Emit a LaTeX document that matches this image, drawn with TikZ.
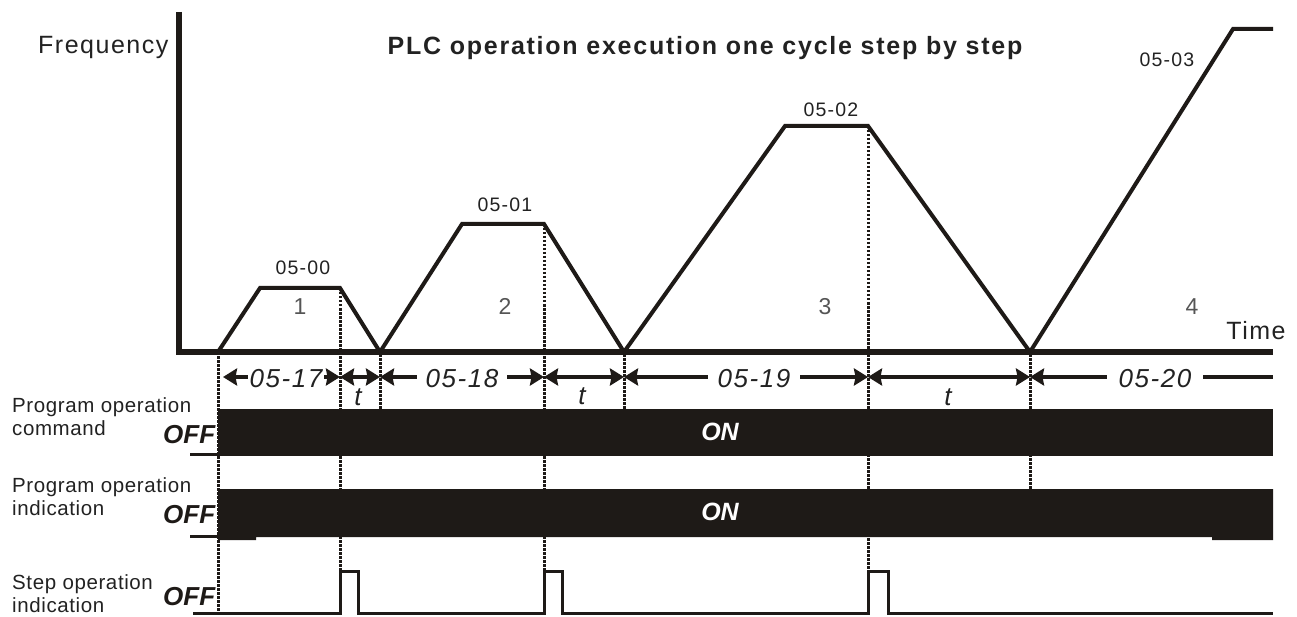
\documentclass[tikz,border=0pt]{standalone}
\usepackage{fontspec}
\setmainfont{Liberation Sans}
\newfontfamily\lsA[LetterSpace=6]{Liberation Sans}
\newfontfamily\lsT[LetterSpace=7]{Liberation Sans}
\newfontfamily\lsB[LetterSpace=3]{Liberation Sans}
\usetikzlibrary{arrows.meta}
\definecolor{ink}{HTML}{1E1A17}
\definecolor{txt}{HTML}{222222}
\definecolor{dig}{HTML}{555555}
\begin{document}
\begin{tikzpicture}[x=1pt,y=-1pt,
  >={Stealth[length=14pt,width=17pt,inset=1.5pt]},
  curve/.style={line width=4pt, draw=ink, line join=miter},
  axis/.style={line width=5.5pt, draw=ink},
  guide/.style={draw=ink, line width=3pt, dash pattern=on 2.5pt off 1.5pt},
  dimline/.style={line width=3.5pt, draw=ink, <->},
  sig/.style={line width=3pt, draw=ink, line join=miter},
  bar/.style={fill=ink, draw=none},
  big/.style={inner sep=0pt, text=txt, font=\lsA\fontsize{25}{30}\selectfont},
  par/.style={inner sep=0pt, text=txt, font=\lsA\fontsize{19.5}{23}\selectfont},
  num/.style={inner sep=0pt, text=dig, font=\lsA\fontsize{23}{27}\selectfont},
  dimlab/.style={fill=white, inner ysep=1pt, text=txt, font=\lsA\itshape\fontsize{26}{30}\selectfont},
  tlab/.style={inner sep=0pt, text=txt, font=\itshape\fontsize{26}{30}\selectfont},
  side/.style={inner sep=0pt, text=txt, align=left, font=\lsB\fontsize{20.5}{23}\selectfont},
  off/.style={inner sep=0pt, text=ink, font=\bfseries\itshape\fontsize{26}{30}\selectfont},
  on/.style={inner sep=0pt, text=white, font=\bfseries\itshape\fontsize{25}{30}\selectfont}
]
\useasboundingbox (0,0) rectangle (1297,617);

% ---- dotted guide lines (drawn first, bars cover them)
\draw[guide] (218,356) -- (218,612);
\draw[guide] (340,288) -- (340,571);
\draw[guide] (380,354) -- (380,409);
\draw[guide] (544,224) -- (544,571);
\draw[guide] (624,354) -- (624,409);
\draw[guide] (868,126) -- (868,571);
\draw[guide] (1030,354) -- (1030,489);

% ---- axes
\draw[axis] (179,12) -- (179,352) -- (1273,352);

% ---- frequency profile
\draw[curve] (218,352) -- (260,288) -- (340,288) -- (380,352) -- (462,224) -- (544,224)
  -- (624,352) -- (785,126) -- (868,126) -- (1030,352) -- (1233,29) -- (1273,29);

% ---- texts of upper graph
\node[big, anchor=base west] (freq) at (38,54) {Frequency};
\node[inner sep=0pt, text=txt, anchor=base, font=\lsT\bfseries\fontsize{25}{30}\selectfont] (title) at (705,55) {PLC operation execution one cycle step by step};
\node[par, anchor=base] (p00) at (303,275) {05-00};
\node[par, anchor=base] (p01) at (505,212) {05-01};
\node[par, anchor=base] (p02) at (831,117) {05-02};
\node[par, anchor=base] (p03) at (1167,67) {05-03};
\node[num, anchor=base] (s1) at (300,315) {1};
\node[num, anchor=base] (s2) at (505,315) {2};
\node[num, anchor=base] (s3) at (825,315) {3};
\node[num, anchor=base] (s4) at (1192,315) {4};
\node[big, anchor=base] (time) at (1256,339) {Time};

% ---- dimension row
\coordinate (d0) at (223,377);
\coordinate (d1) at (340,377);
\coordinate (d2) at (380,377);
\coordinate (d3) at (544,377);
\coordinate (d4) at (624,377);
\coordinate (d5) at (868,377);
\coordinate (d6) at (1030,377);
\coordinate (d7) at (1273,377);
\draw[dimline] (d0) -- (d1);
\draw[dimline] (d1) -- (d2);
\draw[dimline] (d2) -- (d3);
\draw[dimline] (d3) -- (d4);
\draw[dimline] (d4) -- (d5);
\draw[dimline] (d5) -- (d6);
\draw[line width=3.5pt, draw=ink, <-] (d6) -- (d7);
\node[dimlab, anchor=base, inner xsep=2pt] (l17) at (286,387) {05-17};
\node[dimlab, anchor=base, inner xsep=9pt] (l18) at (462,387) {05-18};
\node[dimlab, anchor=base, inner xsep=10pt] (l19) at (754,387) {05-19};
\node[dimlab, anchor=base, inner xsep=12pt] (l20) at (1155,387) {05-20};
\node[tlab, anchor=base] (t1) at (358,405) {t};
\node[tlab, anchor=base] (t2) at (582,404) {t};
\node[tlab, anchor=base] (t3) at (948,405) {t};

% ---- program operation command
\node[side, anchor=north west] (cmd) at (12,397) {Program operation\\command};
\node[off, anchor=base west] (off1) at (163,443) {OFF};
\draw[sig] (190,454) -- (218,454);
\fill[bar] (218,409) rectangle (1273,456);
\node[on, anchor=base] (on1) at (720,440) {ON};

% ---- program operation indication
\node[side, anchor=north west] (ind) at (12,477) {Program operation\\indication};
\node[off, anchor=base west] (off2) at (163,523) {OFF};
\draw[sig] (190,536) -- (218,536);
\fill[bar] (218,489) -- (1273,489) -- (1273,540) -- (1212,540) -- (1212,537)
  -- (256,537) -- (256,540) -- (218,540) -- cycle;
\node[on, anchor=base] (on2) at (720,520) {ON};

% ---- step operation indication
\node[side, anchor=north west] (stp) at (12,574) {Step operation\\indication};
\node[off, anchor=base west] (off3) at (163,605) {OFF};
\draw[sig] (193,613) -- (340,613) -- (340,571) -- (358,571) -- (358,613)
  -- (544,613) -- (544,571) -- (562,571) -- (562,613)
  -- (868,613) -- (868,571) -- (888,571) -- (888,613) -- (1273,613);
\end{tikzpicture}
\end{document}
